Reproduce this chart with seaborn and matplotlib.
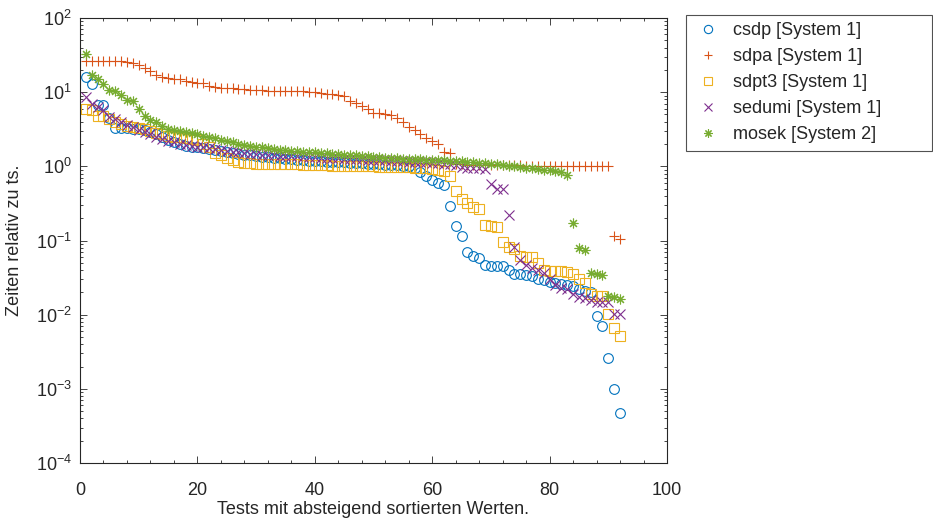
import numpy as np
import pandas as pd
import matplotlib
matplotlib.use("Agg")
import matplotlib.pyplot as plt
import seaborn as sns
from matplotlib.ticker import LogLocator, FixedLocator, NullFormatter

# Relative run times (solver time / reference time), each solver sorted descending
csdp = [16, 13, 6.8, 6.8, 4.5, 3.3, 3.3, 3.3, 3.2, 3.2, 3.1,
        2.9, 2.7, 2.5, 2.3, 2.1, 2.0, 1.9, 1.85, 1.8, 1.75, 1.7, 1.65, 1.6,
        1.55, 1.5, 1.45, 1.42, 1.4, 1.37, 1.35, 1.33, 1.3, 1.28, 1.26, 1.24,
        1.22, 1.2, 1.19, 1.18, 1.17, 1.16, 1.15, 1.14, 1.13, 1.12, 1.11, 1.1,
        1.08, 1.07, 1.06, 1.05, 1.04, 1.03, 1.02, 1.0, 0.95, 0.85, 0.75, 0.65,
        0.6, 0.56, 0.29, 0.157, 0.115, 0.069, 0.062, 0.058, 0.047, 0.045,
        0.045, 0.045, 0.040, 0.035, 0.035, 0.034, 0.033, 0.030, 0.029, 0.028,
        0.027, 0.026, 0.025, 0.024, 0.022, 0.021, 0.020, 0.0097, 0.0071,
        0.0026, 0.00099, 0.00047]

sdpa = [26.5, 26, 26, 26, 26, 26, 26, 25.5, 25, 23, 21, 19, 17, 16.2,
        15.5, 15.2, 14.9, 14.3, 13.8, 13.4, 13.2, 12.1, 11.6, 11.5, 11.4,
        11.3, 11.2, 11.0, 10.8, 10.7, 10.6, 10.5, 10.5, 10.4, 10.4, 10.4,
        10.3, 10.3, 10.2, 10.1, 9.8, 9.5, 9.4, 9.1, 8.9, 7.6, 7.2, 6.5, 5.9,
        5.3, 5.2, 5.0, 4.9, 4.5, 4.0, 3.4, 3.1, 2.7, 2.4, 2.2, 2.0, 1.55,
        1.5, 1.06, 1.06, 1.05, 1.05, 1.05, 1.04, 1.04, 1.04, 1.03, 1.03,
        1.03, 1.03, 1.02, 1.02, 1.02, 1.02, 1.01, 1.01, 1.01, 1.01, 1.0, 1.0,
        1.0, 1.0, 1.0, 1.0, 1.0, 0.116, 0.105]

sdpt3 = [6.0, 5.8, 4.8, 4.7, 4.3, 4.0, 3.7, 3.5, 3.4, 3.3, 3.2, 3.0, 2.8,
         2.7, 2.6, 2.5, 2.45, 2.4, 2.35, 2.3, 2.0, 1.8, 1.5, 1.4, 1.3, 1.2,
         1.15, 1.1, 1.1, 1.08, 1.07, 1.07, 1.07, 1.06, 1.06, 1.06, 1.06,
         1.05, 1.05, 1.05, 1.05, 1.05, 1.02, 1.02, 1.01, 1.01, 1.0, 1.0, 1.0,
         1.0, 0.99, 0.99, 0.99, 0.98, 0.98, 0.97, 0.96, 0.95, 0.94, 0.92,
         0.9, 0.86, 0.74, 0.46, 0.36, 0.32, 0.28, 0.27, 0.16, 0.155, 0.15,
         0.094, 0.081, 0.078, 0.062, 0.059, 0.059, 0.050, 0.040, 0.039, 0.039,
         0.039, 0.038, 0.035, 0.030, 0.027, 0.019, 0.018, 0.018, 0.0102,
         0.0066, 0.0052]

sedumi = [8.5, 7.0, 6.4, 5.7, 4.6, 4.3, 4.0, 3.6, 3.4, 3.1, 2.9, 2.7, 2.5,
          2.35, 2.2, 2.1, 2.0, 1.95, 1.9, 1.85, 1.8, 1.75, 1.7, 1.65, 1.6,
          1.57, 1.54, 1.51, 1.48, 1.45, 1.43, 1.42, 1.4, 1.39, 1.38, 1.37,
          1.36, 1.35, 1.33, 1.32, 1.31, 1.3, 1.29, 1.28, 1.27, 1.26, 1.25,
          1.24, 1.23, 1.22, 1.21, 1.2, 1.19, 1.18, 1.17, 1.16, 1.15, 1.14,
          1.13, 1.12, 1.1, 1.08, 1.06, 1.04, 0.98, 0.96, 0.95, 0.94, 0.93,
          0.57, 0.49, 0.49, 0.22, 0.083, 0.055, 0.047, 0.043, 0.040, 0.037,
          0.030, 0.025, 0.023, 0.022, 0.019, 0.0175, 0.0167, 0.016, 0.015,
          0.015, 0.015, 0.0101, 0.0101]

mosek = [33, 17, 15, 12.8, 10.7, 10.3, 9.2, 7.9, 7.5, 5.9, 4.8, 4.2, 4.0,
         3.5, 3.2, 3.1, 3.0, 2.9, 2.8, 2.7, 2.6, 2.5, 2.4, 2.3, 2.2, 2.1, 2.0,
         1.95, 1.9, 1.85, 1.8, 1.75, 1.7, 1.68, 1.65, 1.62, 1.6, 1.58, 1.56,
         1.54, 1.52, 1.5, 1.48, 1.46, 1.44, 1.42, 1.4, 1.38, 1.36, 1.34, 1.32,
         1.3, 1.29, 1.28, 1.27, 1.26, 1.25, 1.24, 1.23, 1.22, 1.21, 1.2, 1.19,
         1.18, 1.17, 1.16, 1.14, 1.12, 1.1, 1.08, 1.06, 1.04, 1.02, 1.0, 0.98,
         0.96, 0.94, 0.92, 0.9, 0.88, 0.86, 0.84, 0.76, 0.17, 0.079, 0.074,
         0.037, 0.035, 0.034, 0.018, 0.0175, 0.0165]

labels = ["csdp [System 1]", "sdpa [System 1]", "sdpt3 [System 1]",
          "sedumi [System 1]", "mosek [System 2]"]
colors = ["#0072BD", "#D95319", "#EDB120", "#7E2F8E", "#77AC30"]
markers = ["o", "+", "s", "x", (8, 2, 0)]
series = [csdp, sdpa, sdpt3, sedumi, mosek]

frames = []
for lab, vals in zip(labels, series):
    frames.append(pd.DataFrame({"test": np.arange(1, len(vals) + 1),
                                "ratio": vals, "solver": lab}))
df = pd.concat(frames, ignore_index=True)

sns.set_style("ticks")
plt.rcParams["font.family"] = ["Liberation Sans", "DejaVu Sans"]
plt.rcParams["mathtext.fontset"] = "custom"
plt.rcParams["mathtext.rm"] = "Liberation Sans"
plt.rcParams["mathtext.it"] = "Liberation Sans:italic"

fig = plt.figure(figsize=(9.33, 5.26), dpi=100)
ax = fig.add_axes([80 / 933, 1 - 463 / 526, 587 / 933, 445 / 526])

for lab, col, mk in zip(labels, colors, markers):
    sub = df[df["solver"] == lab]
    sns.lineplot(data=sub, x="test", y="ratio", ax=ax, linestyle="",
                 marker=mk, markersize=7, markerfacecolor="none",
                 markeredgecolor=col, markeredgewidth=0.8, color=col,
                 label=lab, legend=False, estimator=None, sort=False)

ax.set_yscale("log")
ax.set_xlim(0, 100)
ax.set_ylim(1e-4, 1e2)
ax.xaxis.set_major_locator(FixedLocator([0, 20, 40, 60, 80, 100]))
ax.xaxis.set_minor_locator(FixedLocator(np.arange(0, 101, 4)))
ax.yaxis.set_major_locator(LogLocator(base=10, numticks=10))
ax.yaxis.set_minor_locator(LogLocator(base=10, subs=np.arange(2, 10), numticks=20))
ax.yaxis.set_minor_formatter(NullFormatter())
ax.tick_params(which="both", direction="in", top=True, right=True,
               labelsize=13, color="#262626", width=0.6)
ax.tick_params(which="major", length=5)
ax.tick_params(which="minor", length=2.5)
ax.tick_params(axis="x", which="major", pad=14)
ax.tick_params(axis="y", which="major", pad=6)
for s in ax.spines.values():
    s.set_linewidth(0.8)
    s.set_color("#262626")

ax.set_xlabel("Tests mit absteigend sortierten Werten.", fontsize=13, labelpad=1)
ax.set_ylabel("Zeiten relativ zu ts.", fontsize=13, labelpad=9)

handles, hlabels = ax.get_legend_handles_labels()
leg = fig.legend(handles, hlabels, loc="upper left",
                 bbox_to_anchor=(686 / 933, 1 - 15 / 526, 246 / 933, 0.0),
                 mode="expand", borderaxespad=0, fontsize=13,
                 frameon=True, fancybox=False, edgecolor="#262626",
                 handlelength=1.6, handletextpad=0.6, borderpad=0.4,
                 labelspacing=0.5, markerscale=0.85)
leg.get_frame().set_linewidth(0.8)

fig.savefig("out.png", dpi=100)
